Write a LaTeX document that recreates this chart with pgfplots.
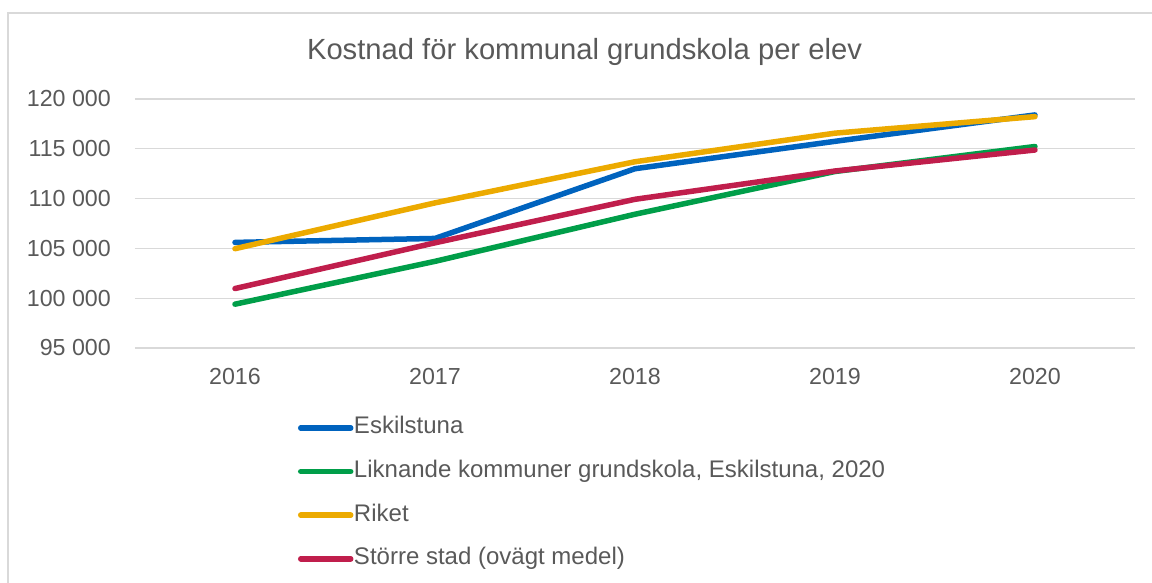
\documentclass[border=0pt]{standalone}
\usepackage{pgfplots}
\pgfplotsset{compat=1.18}
\usepackage{fontspec}
\setmainfont{Liberation Sans}
\definecolor{cblue}{RGB}{0,99,190}
\definecolor{cgreen}{RGB}{0,158,73}
\definecolor{cgold}{RGB}{236,170,0}
\definecolor{cred}{RGB}{192,30,76}
\definecolor{tgray}{RGB}{89,89,89}
\definecolor{ggray}{RGB}{217,217,217}
\begin{document}
\begin{tikzpicture}[x=1bp,y=1bp]
\useasboundingbox (-135,-235) rectangle (1017,348);
\draw[ggray, line width=1.5bp] (-127,-300) -- (-127,335) -- (1100,335);
\node[anchor=base, font=\fontsize{29.3}{35}\selectfont, text=tgray] at (449.5,288) {Kostnad för kommunal grundskola per elev};
\begin{axis}[
  at={(0,0)}, anchor=south west,
  scale only axis, width=1000bp, height=249bp,
  xmin=-0.5, xmax=4.5, ymin=95000, ymax=120000,
  scaled y ticks=false,
  xtick={0,1,2,3,4}, xticklabels={2016,2017,2018,2019,2020},
  ytick={95000,100000,105000,110000,115000,120000},
  yticklabels={95 000,100 000,105 000,110 000,115 000,120 000},
  major tick length=0pt,
  axis line style={draw=none},
  ymajorgrids, major grid style={ggray, line width=1.2bp},
  yticklabel style={font=\fontsize{23.3}{27}\selectfont, text=tgray, inner sep=0pt, anchor=east, xshift=-24bp},
  xticklabel style={font=\fontsize{23.3}{27}\selectfont, text=tgray, inner sep=0pt, anchor=north, yshift=-20bp},
  clip=false,
  legend cell align=left,
  legend style={at={(axis description cs:0.163,-0.277)}, anchor=north west, draw=none, fill=none,
    inner sep=0pt, outer sep=0pt, font=\fontsize{24.1}{28}\selectfont, text=tgray,
    nodes={inner sep=0pt, text height=17bp, text depth=5bp},
    row sep=21.6bp,
    /tikz/every odd column/.append style={column sep=0.5bp}},
  legend image code/.code={\draw[#1, line width=5.5bp, line cap=round] (0bp,0bp) -- (50bp,0bp);},
  every axis plot/.append style={line width=5.5bp, line cap=round, line join=round, mark=none},
]
\addplot[cblue] coordinates {(0,105600) (1,106000) (2,113000) (3,115750) (4,118400)};
\addlegendentry{Eskilstuna}
\addplot[cgreen] coordinates {(0,99400) (1,103700) (2,108430) (3,112720) (4,115230)};
\addlegendentry{Liknande kommuner grundskola, Eskilstuna, 2020}
\addplot[cgold] coordinates {(0,104970) (1,109570) (2,113700) (3,116570) (4,118230)};
\addlegendentry{Riket}
\addplot[cred] coordinates {(0,100970) (1,105560) (2,109930) (3,112770) (4,114880)};
\addlegendentry{Större stad (ovägt medel)}
\end{axis}
\end{tikzpicture}
\end{document}
